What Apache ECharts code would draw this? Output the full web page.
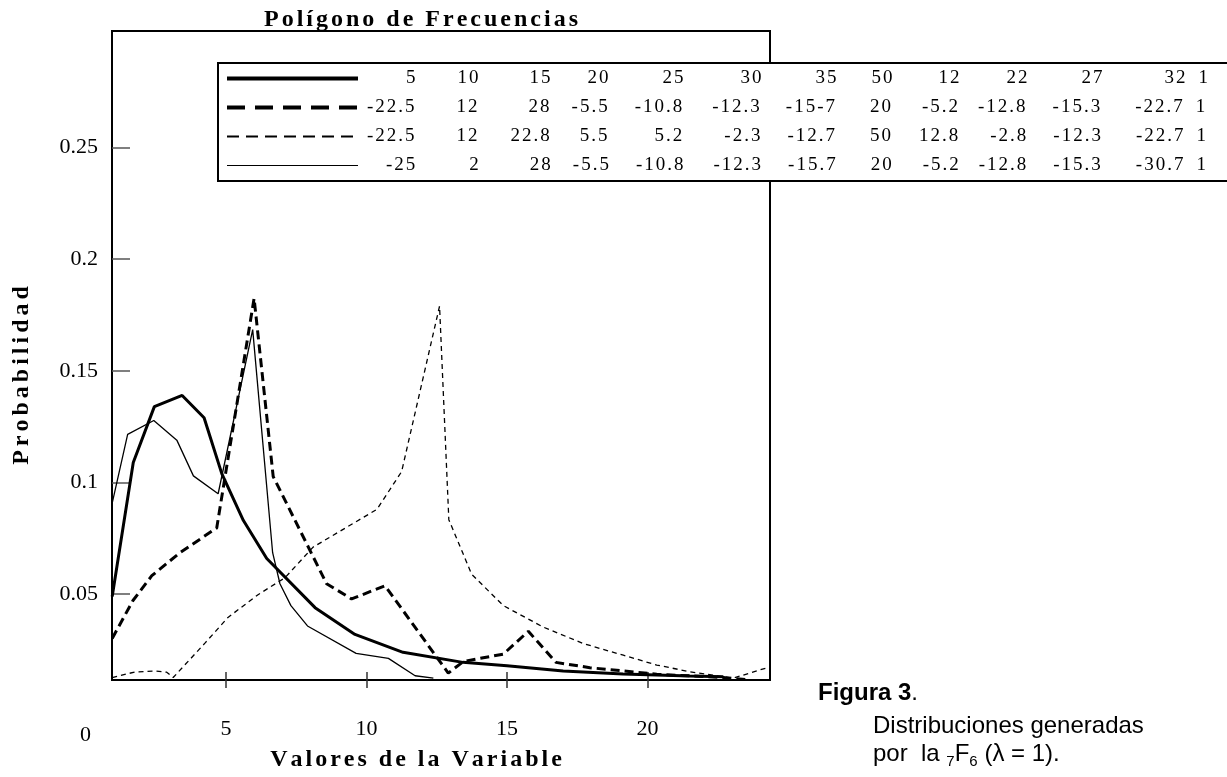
<!DOCTYPE html>
<html>
<head>
<meta charset="utf-8">
<script src="https://cdn.jsdelivr.net/npm/echarts@6/dist/echarts.min.js"></script>
<style>
  html, body { margin: 0; padding: 0; background: #fff; }
  #chart { width: 1227px; height: 777px; }
</style>
</head>
<body>
<div id="chart"></div>
<script>
// [x, probability] pairs
const thickSolid = [
  [0.95, 0.049], [1.70, 0.109], [2.45, 0.134], [3.44, 0.139], [4.22, 0.129],
  [4.85, 0.104], [5.62, 0.083], [6.45, 0.066], [8.17, 0.044], [9.59, 0.032],
  [11.3, 0.024], [13.43, 0.0195], [15.0, 0.018], [17.0, 0.0156], [19.13, 0.0143],
  [21.5, 0.0134], [22.7, 0.0131]
]
const thickDashed = [
  [0.95, 0.0302], [1.69, 0.0472], [2.36, 0.0583], [3.36, 0.0686], [4.67, 0.0797],
  [6.0, 0.1825], [6.68, 0.1027], [8.58, 0.0547], [9.47, 0.0479], [10.66, 0.0538],
  [12.91, 0.0147], [13.45, 0.0199], [14.87, 0.0232], [15.76, 0.0334], [16.74, 0.0195],
  [17.95, 0.0171], [20.33, 0.0142], [22.69, 0.0127], [23.65, 0.0116]
]
const thinDashed = [
  [0.95, 0.0127], [1.76, 0.0152], [2.47, 0.0156], [2.89, 0.0151], [3.12, 0.0127],
  [4.25, 0.0281], [5.07, 0.0396], [6.14, 0.0498], [7.1, 0.0574], [8.1, 0.0711],
  [10.37, 0.088], [11.25, 0.1049], [12.6, 0.179], [12.93, 0.0834], [13.74, 0.059],
  [14.87, 0.0449], [16.29, 0.0353], [17.72, 0.0279], [19.14, 0.0227], [20.33, 0.0183],
  [21.51, 0.0153], [23.05, 0.0124], [24.36, 0.0175]
]
const thinSolid = [
  [0.95, 0.0908], [1.50, 0.1216], [2.43, 0.1278], [3.25, 0.119], [3.84, 0.103],
  [4.72, 0.095], [5.95, 0.1685], [6.66, 0.0686], [6.92, 0.0547], [7.31, 0.0449],
  [7.9, 0.0358], [9.63, 0.0235], [10.78, 0.0213], [11.73, 0.0135], [12.38, 0.0124]
]

const xTicks = [5, 10, 15, 20]
const yTicks = [0.05, 0.1, 0.15, 0.2, 0.25]

// legend rows: parameter columns shown next to each line sample
const legendRows = {
  a: ['5', '10', '15', '20', '25', '30', '35', '50', '12', '22', '27', '32', '1'],
  b: ['-22.5', '12', '28', '-5.5', '-10.8', '-12.3', '-15-7', '20', '-5.2', '-12.8', '-15.3', '-22.7', '1'],
  c: ['-22.5', '12', '22.8', '5.5', '5.2', '-2.3', '-12.7', '50', '12.8', '-2.8', '-12.3', '-22.7', '1'],
  d: ['-25', '2', '28', '-5.5', '-10.8', '-12.3', '-15.7', '20', '-5.2', '-12.8', '-15.3', '-30.7', '1']
}
const colWidths = [52, 63, 72, 58, 75, 78, 75, 56, 67, 68, 75, 83, 22]

const serif = '"Liberation Serif", "Times New Roman", serif'
const sans = '"Liberation Sans", Arial, sans-serif'

// the original typesets its serif labels with wide letter spacing;
// each character becomes a rich token with a little right padding
function spaced(str, key) {
  const chars = str.split('')
  return chars.map((c, i) => '{' + (i < chars.length - 1 ? key : key + 'n') + '|' + c + '}').join('')
}
function spacedRich(key, base, gap) {
  return {
    [key]: Object.assign({ padding: [0, gap, 0, 0] }, base),
    [key + 'n']: Object.assign({}, base)
  }
}

const legendFont = { fontFamily: serif, fontSize: 19, color: '#000' }
const legendGap = 2
const measure = document.createElement('canvas').getContext('2d')
measure.font = '19px "Liberation Serif"'

const legendRich = spacedRich('g', legendFont, legendGap)
function legendCell(text, width) {
  const chars = text.split('')
  const w = chars.reduce((s, c) => s + measure.measureText(c).width, 0) + legendGap * (chars.length - 1)
  const pad = Math.max(1, Math.round(width - w))
  legendRich['p' + pad] = Object.assign({ width: pad }, legendFont)
  return '{p' + pad + '| }' + spaced(text, 'g')
}
const legendText = {}
Object.keys(legendRows).forEach(k => {
  legendText[k] = legendRows[k].map((t, i) => legendCell(t, colWidths[i])).join('')
})

const boldSerif = { fontFamily: serif, fontWeight: 'bold', fontSize: 24, color: '#000' }

const chart = echarts.init(document.getElementById('chart'))

function lineSeries(name, data, width, type) {
  return {
    name,
    type: 'line',
    data,
    symbol: 'none',
    itemStyle: { color: '#000' },
    lineStyle: { color: '#000', width, type },
    emphasis: { disabled: true },
    z: 3
  }
}

chart.setOption({
  animation: false,
  backgroundColor: '#fff',
  title: {
    text: spaced('Polígono de Frecuencias', 't'),
    left: 416,
    top: 3,
    textAlign: 'center',
    textStyle: Object.assign({ rich: spacedRich('t', boldSerif, 3) }, boldSerif)
  },
  grid: {
    left: 112, top: 31, right: 457, bottom: 92,
    show: true, borderColor: '#000', borderWidth: 2, backgroundColor: 'transparent'
  },
  legend: {
    orient: 'vertical',
    left: 218, top: 63,
    itemWidth: 131, itemHeight: 14, itemGap: 10,
    padding: [6, 40, 6, 7],
    borderColor: '#000', borderWidth: 2, backgroundColor: '#fff',
    selectedMode: false,
    itemStyle: { opacity: 0 },
    data: [
      { name: 'a', lineStyle: { color: '#000', opacity: 1, width: 4, type: 'solid' } },
      { name: 'b', lineStyle: { color: '#000', opacity: 1, width: 4, type: [18, 10] } },
      { name: 'c', lineStyle: { color: '#000', opacity: 1, width: 2, type: [12, 7] } },
      { name: 'd', lineStyle: { color: '#000', opacity: 1, width: 1.2, type: 'solid' } }
    ],
    formatter: name => legendText[name],
    textStyle: { rich: legendRich, lineHeight: 19 }
  },
  xAxis: [{
    type: 'value',
    min: 0.943, max: 24.36,
    axisLine: { lineStyle: { color: '#000', width: 2 } },
    axisTick: { customValues: xTicks, inside: true, length: 8, lineStyle: { color: '#333', width: 1.5 } },
    axisLabel: {
      customValues: xTicks, margin: 38,
      fontFamily: serif, fontSize: 22, color: '#000'
    },
    splitLine: { show: false },
    name: spaced('Valores de la Variable', 'v'),
    nameLocation: 'middle',
    nameGap: 68,
    nameTextStyle: Object.assign({ rich: spacedRich('v', boldSerif, 3), padding: [0, 50, 0, 0] }, boldSerif)
  }, {
    type: 'value',
    min: 0.943, max: 24.36,
    position: 'bottom',
    axisLine: { show: false },
    axisTick: { customValues: xTicks, inside: false, length: 8, lineStyle: { color: '#333', width: 1.5 } },
    axisLabel: { show: false },
    splitLine: { show: false }
  }],
  yAxis: {
    type: 'value',
    min: 0.0116, max: 0.3022,
    axisLine: { lineStyle: { color: '#000', width: 2 } },
    axisTick: { customValues: yTicks, inside: true, length: 18, lineStyle: { color: '#555', width: 1.5 } },
    axisLabel: {
      customValues: yTicks, margin: 14,
      formatter: v => String(+v.toFixed(2)),
      fontFamily: serif, fontSize: 22, color: '#000'
    },
    splitLine: { show: false },
    name: spaced('Probabilidad', 'p'),
    nameLocation: 'middle',
    nameRotate: 90,
    nameGap: 78,
    nameTextStyle: Object.assign({ rich: spacedRich('p', boldSerif, 4), padding: [0, 40, 0, 0] }, boldSerif)
  },
  series: [
    lineSeries('a', thickSolid, 3, 'solid'),
    lineSeries('b', thickDashed, 3, [9, 5]),
    lineSeries('c', thinDashed, 1.3, [5, 4]),
    lineSeries('d', thinSolid, 1.3, 'solid')
  ]
})

// the "0" tick label sits left of the plot frame, outside the axis range
const zeroX = chart.convertToPixel({ xAxisIndex: 0 }, 0)
chart.setOption({
  graphic: [
    {
      type: 'text', x: zeroX, y: 724,
      style: { text: '0', fontFamily: serif, fontSize: 22, fill: '#000', align: 'center', verticalAlign: 'top' }
    },
    {
      type: 'text', x: 818, y: 693,
      style: { text: '{b|Figura 3}.', fontFamily: sans, fontSize: 24, fill: '#000', verticalAlign: 'middle',
        rich: { b: { fontFamily: sans, fontSize: 24, fontWeight: 'bold' } } }
    },
    {
      type: 'text', x: 873, y: 726,
      style: { text: 'Distribuciones generadas', fontFamily: sans, fontSize: 24, fill: '#000', verticalAlign: 'middle' }
    },
    {
      type: 'text', x: 873, y: 754,
      style: {
        text: 'por  la {s|7}F{s|6} (λ = 1).', fontFamily: sans, fontSize: 24, fill: '#000', verticalAlign: 'middle',
        rich: { s: { fontFamily: sans, fontSize: 15, verticalAlign: 'bottom', lineHeight: 30 } }
      }
    }
  ]
})
</script>
</body>
</html>
